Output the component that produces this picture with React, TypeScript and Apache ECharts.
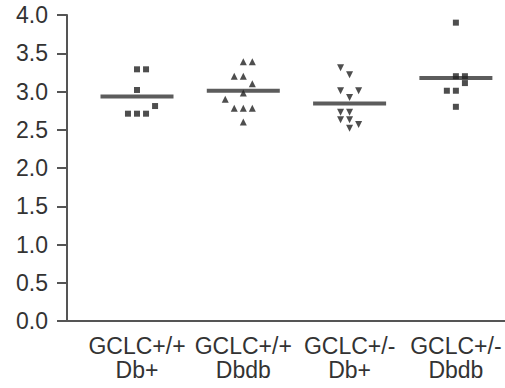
import React, { useEffect, useRef } from "react";
import * as echarts from "echarts";

const categories = ["GCLC+/+\nDb+", "GCLC+/+\nDbdb", "GCLC+/-\nDb+", "GCLC+/-\nDbdb"];
const categoryPositions = [1, 2, 3, 4];

// values, with the column slot of each point (beeswarm style)
const g1Values = [3.29, 3.29, 3.02, 2.81, 2.71, 2.71, 2.71];
const g1Slots = [0, 1, 0, 2, -1, 0, 1];
const g2Values = [3.39, 3.39, 3.2, 3.2, 3.1, 2.98, 2.9, 2.78, 2.78, 2.78, 2.6];
const g2Slots = [0, 1, -1, 0, 1, 0, -2, -1, 0, 1, 0];
const g3Values = [3.31, 3.22, 3.01, 3.01, 2.92, 2.73, 2.73, 2.63, 2.63, 2.57, 2.52];
const g3Slots = [-1, 0, -1, 1, 0, -1, 0, -1, 0, 1, 0];
const g4Values = [3.9, 3.2, 3.2, 3.11, 3.01, 3.01, 2.8];
const g4Slots = [0, 0, 1, 1, -1, 0, 0];

const groupValues = [g1Values, g2Values, g3Values, g4Values];
const groupSlots = [g1Slots, g2Slots, g3Slots, g4Slots];
const symbols = ["rect", "triangle", "triangle", "rect"];
const rotations = [0, 0, 180, 0];
const symbolSizes = [6, 7, 7, 6];

const SLOT = 0.085;
const INK = "#222";
const FONT = "Liberation Sans, Arial, Helvetica, sans-serif";

export default function App() {
  const ref = useRef<HTMLDivElement>(null);
  useEffect(() => {
    if (!ref.current) return;
    const chart = echarts.init(ref.current, null, { renderer: "svg" });
    const pointSeries = groupValues.map((vals, gi) => ({
      type: "scatter",
      symbol: symbols[gi],
      symbolRotate: rotations[gi],
      symbolSize: symbolSizes[gi],
      itemStyle: { color: INK },
      data: vals.map((v, i) => [categoryPositions[gi] + groupSlots[gi][i] * SLOT, v]),
      z: 3,
    }));
    const means = groupValues.map((vals) => vals.reduce((a, b) => a + b, 0) / vals.length);
    const meanSeries = {
      type: "scatter",
      symbol: "rect",
      symbolSize: [73, 4],
      itemStyle: { color: "#333" },
      data: means.map((m, i) => [categoryPositions[i], m]),
      z: 2,
    };
    chart.setOption({
      animation: false,
      backgroundColor: "#ffffff",
      grid: { left: 67, right: 0, top: 15, bottom: 67 },
      xAxis: {
        type: "value",
        min: 0.3415,
        max: 4.462,
        axisLine: { show: true, lineStyle: { color: "#555", width: 2 } },
        axisTick: { show: false },
        splitLine: { show: false },
        axisLabel: {
          customValues: categoryPositions,
          formatter: (v: number) => categories[Math.round(v) - 1] ?? "",
          color: "#333",
          fontFamily: FONT,
          fontSize: 23,
          lineHeight: 24,
          margin: 13,
        },
      },
      yAxis: {
        type: "value",
        min: 0,
        max: 4,
        interval: 0.5,
        axisLine: { show: true, lineStyle: { color: "#555", width: 2 } },
        axisTick: { show: true, length: 10, lineStyle: { color: "#555", width: 2 } },
        splitLine: { show: false },
        axisLabel: {
          formatter: (v: number) => v.toFixed(1),
          color: "#333",
          fontFamily: FONT,
          fontSize: 23,
          margin: 19,
        },
      },
      series: [...pointSeries, meanSeries],
    });
    return () => chart.dispose();
  }, []);
  return (
    <div
      ref={ref}
      style={{ position: "fixed", left: 0, top: 0, width: 505, height: 388, background: "#fff" }}
    />
  );
}
